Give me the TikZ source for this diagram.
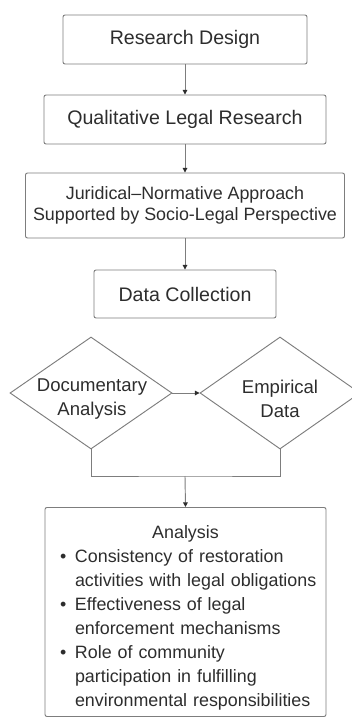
\documentclass[tikz,border=0pt]{standalone}
\usepackage{fontspec}
\setmainfont{Liberation Sans}
\usetikzlibrary{shapes.geometric,arrows.meta}
\definecolor{edgegray}{RGB}{125,125,125}
\definecolor{inkgray}{RGB}{45,45,45}
\newcommand{\bulletline}{\par\noindent\llap{\makebox[11.25pt][l]{\textbullet}}}
\begin{document}
\begin{tikzpicture}[x=0.75pt,y=-0.75pt,
  box/.style={draw=edgegray,line width=0.7pt,rounded corners=1.5pt,text=inkgray,inner sep=0pt,align=center},
  dia/.style={draw=edgegray,line width=0.7pt,diamond,inner sep=0pt},
  lbl/.style={text=inkgray,align=center,inner sep=0pt,font={\fontsize{13.9}{18}\selectfont}},
  big/.style={font={\fontsize{14.7}{17}\selectfont}},
  small/.style={font={\fontsize{13.4}{16.3}\selectfont}},
  link/.style={draw=edgegray,line width=0.7pt},
  arr/.style={link,-{Triangle[length=3.5pt,width=3.5pt,color=inkgray]}}]
\useasboundingbox (0,0) rectangle (352,717);
\node[box,big,minimum width=183pt,minimum height=36.75pt] (design) at (185,39.5) {Research Design};
\node[box,big,minimum width=211.5pt,minimum height=36.75pt] (qual) at (185,119.5) {Qualitative Legal Research};
\node[box,small,minimum width=239.25pt,minimum height=48.75pt] (approach) at (185,205.5) {Juridical–Normative Approach\\Supported by Socio-Legal Perspective};
\node[box,big,minimum width=136.5pt,minimum height=36pt] (collect) at (185,294) {Data Collection};
\node[dia,minimum width=121.5pt,minimum height=84pt] (docu) at (91,393) {};
\node[lbl] (docutext) at (92,399) {Documentary\\Analysis};
\node[dia,minimum width=120pt,minimum height=84pt] (empi) at (280,393) {};
\node[lbl] (empitext) at (280,399) {Empirical\\Data};
\coordinate (join) at (185,476);
\node[box,anchor=north,align=left,text width=210.75pt,inner xsep=0pt,
  minimum height=156.75pt,font={\fontsize{13.4}{18}\selectfont}] (analysis) at (185.5,507)
  {{\centering\rule{0pt}{18.5pt}Analysis\par}
   \leftskip=22.5pt\hyphenpenalty=10000
   \bulletline Consistency of restoration\newline activities with legal obligations
   \bulletline Effectiveness of legal\newline enforcement mechanisms
   \bulletline Role of community\newline participation in fulfilling\newline environmental responsibilities\par};
\draw[arr] (design) -- (qual);
\draw[arr] (qual) -- (approach);
\draw[arr] (approach) -- (collect);
\draw[arr] (docu.east) -- (empi.west);
\draw[link] (docu.south) |- (join) -| (empi.south);
\draw[arr] (join) -- (analysis.north);
\end{tikzpicture}
\end{document}
